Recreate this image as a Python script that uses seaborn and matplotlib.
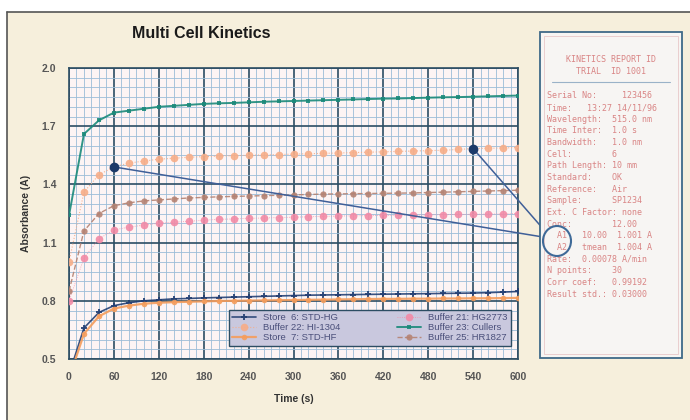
import numpy as np
import pandas as pd
import seaborn as sns
import matplotlib
matplotlib.use("Agg")
import matplotlib.pyplot as plt
from matplotlib.patches import Rectangle, Ellipse
from matplotlib.ticker import MultipleLocator

# time axis (s), one reading every 20 s
time_s = list(range(0, 601, 20))

store6 = [0.42, 0.66, 0.74, 0.775, 0.79, 0.80, 0.805, 0.81, 0.812, 0.815, 0.817, 0.819, 0.821,
          0.823, 0.825, 0.827, 0.829, 0.83, 0.831, 0.832, 0.833, 0.834, 0.835, 0.836, 0.837,
          0.838, 0.839, 0.84, 0.842, 0.845, 0.848]
buffer22 = [1.00, 1.36, 1.45, 1.49, 1.51, 1.52, 1.53, 1.535, 1.54, 1.543, 1.546, 1.548, 1.55,
            1.552, 1.554, 1.556, 1.558, 1.56, 1.562, 1.564, 1.566, 1.568, 1.57, 1.572, 1.574,
            1.576, 1.58, 1.585, 1.586, 1.588, 1.59]
store7 = [0.40, 0.63, 0.72, 0.76, 0.775, 0.785, 0.79, 0.793, 0.795, 0.797, 0.799, 0.80, 0.801,
          0.802, 0.803, 0.804, 0.805, 0.806, 0.807, 0.808, 0.809, 0.81, 0.81, 0.811, 0.811,
          0.812, 0.812, 0.813, 0.813, 0.814, 0.815]
buffer21 = [0.80, 1.02, 1.12, 1.165, 1.18, 1.19, 1.20, 1.205, 1.21, 1.215, 1.22, 1.222, 1.225,
            1.227, 1.229, 1.231, 1.233, 1.235, 1.237, 1.238, 1.239, 1.24, 1.241, 1.242, 1.243,
            1.244, 1.245, 1.246, 1.247, 1.248, 1.25]
buffer23 = [1.24, 1.66, 1.73, 1.77, 1.78, 1.79, 1.80, 1.805, 1.81, 1.815, 1.818, 1.82, 1.823,
            1.826, 1.828, 1.83, 1.832, 1.834, 1.836, 1.838, 1.84, 1.842, 1.843, 1.845, 1.847,
            1.849, 1.85, 1.852, 1.854, 1.856, 1.858]
buffer25 = [0.85, 1.16, 1.25, 1.29, 1.305, 1.315, 1.32, 1.325, 1.33, 1.333, 1.336, 1.338, 1.34,
            1.342, 1.344, 1.346, 1.348, 1.35, 1.351, 1.352, 1.353, 1.354, 1.355, 1.356, 1.358,
            1.36, 1.362, 1.364, 1.366, 1.368, 1.37]

labels = ["Store  6: STD-HG", "Buffer 22: HI-1304", "Store  7: STD-HF",
          "Buffer 21: HG2773", "Buffer 23: Cullers", "Buffer 25: HR1827"]

y_ticks = [0.5, 0.8, 1.1, 1.4, 1.7, 2.0]

report_title = ["KINETICS REPORT ID", "TRIAL  ID 1001"]
report_lines = [
    "Serial No:     123456",
    "Time:   13:27 14/11/96",
    "Wavelength:  515.0 nm",
    "Time Inter:  1.0 s",
    "Bandwidth:   1.0 nm",
    "Cell:        6",
    "Path Length: 10 mm",
    "Standard:    OK",
    "Reference:   Air",
    "Sample:      SP1234",
    "Ext. C Factor: none",
    "Conc:        12.00",
    "  A1   10.00  1.001 A",
    "  A2   tmean  1.004 A",
    "Rate:  0.00078 A/min",
    "N points:    30",
    "Corr coef:   0.99192",
    "Result std.: 0.03000",
]

navy = "#233f73"
cream = "#f6efdc"

sns.set_style("white")
plt.rcParams["font.family"] = ["Liberation Sans", "DejaVu Sans"]

W, H = 690, 420
fig = plt.figure(figsize=(6.9, 4.2), dpi=100, facecolor="white")


def fx(x):
    return x / W


def fy(y):
    return 1 - y / H


# cream panel with frame
fig.patches.append(Rectangle((fx(7), 0), 1 - fx(7), fy(12), transform=fig.transFigure,
                             facecolor=cream, edgecolor="none", zorder=-10))
fig.add_artist(plt.Line2D([fx(7), fx(7)], [0, fy(12)], color="#555555", lw=1.2))
fig.add_artist(plt.Line2D([fx(7), 1], [fy(12), fy(12)], color="#555555", lw=1.2))

ax = fig.add_axes([fx(69), fy(359), fx(518) - fx(69), fy(68) - fy(359)])
ax.set_facecolor("#fdf4f4")

df = pd.DataFrame({"t": time_s, labels[0]: store6, labels[1]: buffer22, labels[2]: store7,
                   labels[3]: buffer21, labels[4]: buffer23, labels[5]: buffer25})

styles = {
    labels[0]: dict(color=navy, marker="P", markersize=4, lw=1.2, linestyle="-"),
    labels[1]: dict(color="#f7ad88", marker="o", markersize=5.5, lw=0.8, linestyle=":"),
    labels[2]: dict(color="#f59d5c", marker="o", markersize=4, lw=1.6, linestyle="-"),
    labels[3]: dict(color="#f28aa6", marker="o", markersize=5.5, lw=0.6, linestyle=":"),
    labels[4]: dict(color="#1b8a7a", marker="s", markersize=3.5, lw=1.4, linestyle="-"),
    labels[5]: dict(color="#b58272", marker="o", markersize=4.5, lw=1.0, linestyle="--"),
}
for name in labels:
    st = styles[name]
    sns.lineplot(data=df, x="t", y=name, ax=ax, label=name, color=st["color"],
                 marker=st["marker"], markersize=st["markersize"], lw=st["lw"],
                 linestyle=st["linestyle"], markeredgewidth=0, alpha=0.9, zorder=3)

ax.set_xlim(0, 600)
ax.set_ylim(0.5, 2.0)
ax.xaxis.set_major_locator(MultipleLocator(60))
ax.xaxis.set_minor_locator(MultipleLocator(10))
ax.set_yticks(y_ticks)
ax.set_yticklabels([f"{v:.1f}" for v in y_ticks])
ax.yaxis.set_minor_locator(MultipleLocator(0.05))
ax.grid(which="minor", color="#9cbcd8", lw=0.6, zorder=1)
ax.grid(which="major", color="#2c4d63", lw=1.2, zorder=2)
ax.set_axisbelow(True)
for s in ax.spines.values():
    s.set_color("#2c4d63")
    s.set_linewidth(1.2)
ax.tick_params(which="both", length=0, labelsize=7.5, labelcolor="#555555", pad=9)
for lab in ax.get_xticklabels() + ax.get_yticklabels():
    lab.set_fontweight("bold")
ax.set_xlabel("Time (s)", fontsize=7.5, fontweight="bold", color="#333333", labelpad=9)
ax.set_ylabel("Absorbance (A)", fontsize=7.5, fontweight="bold", color="#333333", labelpad=8)

leg = ax.legend(loc="lower right", ncol=2, fontsize=6.8, frameon=True, fancybox=False,
                borderpad=0.35, labelspacing=0.1, columnspacing=6, handlelength=2.5,
                bbox_to_anchor=(0.995, 0.03))
leg.get_frame().set_facecolor("#c9c8de")
leg.get_frame().set_edgecolor("#2c4d63")
leg.get_frame().set_alpha(1)
for txt in leg.get_texts():
    txt.set_color("#4a4f7a")

fig.text(fx(201), fy(33), "Multi Cell Kinetics", ha="center", va="center",
         fontsize=11.5, fontweight="bold", color="#1a1a1a")

# report box
fig.patches.append(Rectangle((fx(540), fy(358)), fx(682) - fx(540), fy(32) - fy(358),
                             transform=fig.transFigure, facecolor="#f7f5f3",
                             edgecolor="#3f6a88", lw=1.3, zorder=5))
fig.patches.append(Rectangle((fx(544), fy(354)), fx(678) - fx(544), fy(36) - fy(354),
                             transform=fig.transFigure, facecolor="none",
                             edgecolor="#e8c8c8", lw=0.6, zorder=5))
red = "#d98585"
mono = ["DejaVu Sans Mono"]
for i, line in enumerate(report_title):
    fig.text(fx(611), fy(60 + 12 * i), line, ha="center", va="center", fontsize=6,
             family=mono, color=red, zorder=6)
fig.add_artist(plt.Line2D([fx(552), fx(670)], [fy(82), fy(82)], color="#9ab2c8", lw=0.8,
                          zorder=6))
for i, line in enumerate(report_lines):
    fig.text(fx(547), fy(96 + 11.65 * i), line, ha="left", va="center", fontsize=6,
             family=mono, color=red, zorder=6)

fig.patches.append(Ellipse((fx(557), fy(241)), 28 / W, 30 / H, transform=fig.transFigure,
                           facecolor="none", edgecolor="#3f6a98", lw=1.5, zorder=7))

# call-outs from two readings on Buffer 22 to the report box
for idx, target in [(3, (543, 237)), (27, (545, 231))]:
    px, py = time_s[idx], buffer22[idx]
    ax.annotate("", xy=(fx(target[0]), fy(target[1])), xycoords="figure fraction",
                xytext=(px, py), textcoords="data",
                arrowprops=dict(arrowstyle="-", color="#3f5f98", lw=1.1), zorder=8)
    ax.plot([px], [py], "o", color="#1d3a6a", markersize=6, zorder=9, clip_on=False)

fig.savefig("out.png", dpi=100)
